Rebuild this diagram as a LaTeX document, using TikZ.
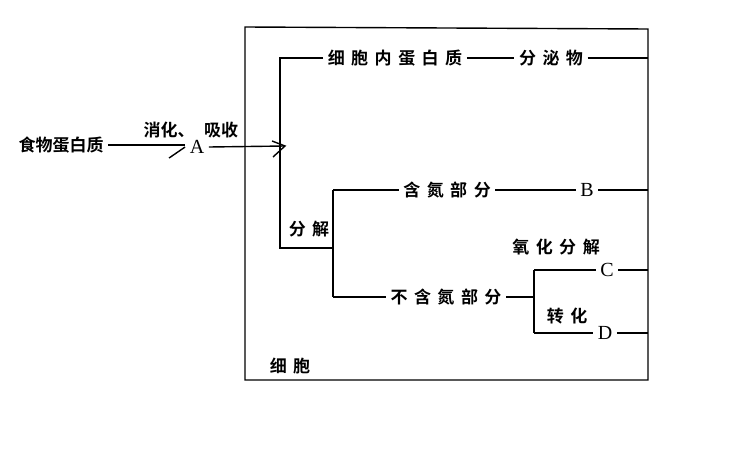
\documentclass[tikz,border=0pt]{standalone}
\usepackage{fontspec}
\setmainfont{Liberation Serif}
\newfontfamily\cjk{Noto Sans CJK SC}[BoldFont={Noto Sans CJK SC Bold}]
\newcommand\gp{\hspace{6.5pt}}
\begin{document}
\begin{tikzpicture}[x=1pt,y=-1pt,line width=1.4pt,
  lbl/.style={font=\cjk\bfseries\fontsize{17}{17}\selectfont,inner xsep=4pt,inner ysep=0pt},
  let/.style={font=\fontsize{20}{20}\selectfont,inner xsep=4pt,inner ysep=0pt}]
\useasboundingbox (0,0) rectangle (738,452);
% cell frame
\coordinate (bTL) at (245,27);
\coordinate (bTR) at (648,29);
\coordinate (bBR) at (648,380);
\coordinate (bBL) at (245,380);
\coordinate (bR) at (648,200);
\draw (bTL) -- (bTR) -- (bBR) -- (bBL) -- cycle;
% outside
\node[lbl] (food) at (61,145) {食物蛋白质};
\node[let] (A) at (197,147) {A};
\node[lbl,anchor=west,inner xsep=0pt] (dig) at (143,130) {消化、};
\node[lbl] (abs) at (221,130) {吸收};
\coordinate (ar) at (285,146);
\draw (food.east) -- (A.west |- food.east);
\draw ([shift={(-16,11)}]A.west) -- (A.west);
\draw (A.east) -- (ar);
\draw ([shift={(-13,-5)}]ar) -- (ar) -- ([shift={(-12,11)}]ar);
% inner
\node[lbl] (ip) at (395,58) {细\gp 胞\gp 内\gp 蛋\gp 白\gp 质};
\node[lbl] (fm) at (551,58) {分\gp 泌\gp 物};
\node[lbl] (fj) at (309,229) {分\gp 解};
\coordinate (t1) at (280,58);
\coordinate (t0) at (280,248);
\coordinate (s0) at (333,248);
\coordinate (s1) at (333,190);
\coordinate (s2) at (333,297);
\draw (ip.west) -- (t1) -- (t0) -- (s0);
\draw (ip.east) -- (fm.west);
\draw (fm.east) -- (fm.east -| bR);
\draw (s1) -- (s2);
\node[lbl] (n1) at (447,190) {含\gp 氮\gp 部\gp 分};
\node[let] (B) at (587,190) {B};
\draw (s1) -- (n1.west);
\draw (n1.east) -- (B.west);
\draw (B.east) -- (B.east -| bR);
\node[lbl] (n2) at (446,297) {不\gp 含\gp 氮\gp 部\gp 分};
\coordinate (j0) at (534,297);
\coordinate (j1) at (534,270);
\coordinate (j2) at (534,333);
\draw (s2) -- (n2.west);
\draw (n2.east) -- (j0);
\draw (j1) -- (j2);
\node[let] (C) at (607,270) {C};
\node[let] (D) at (605,333) {D};
\node[lbl] (ox) at (556,247) {氧\gp 化\gp 分\gp 解};
\node[lbl] (zh) at (567,316) {转\gp 化};
\draw (j1) -- (C.west);
\draw (C.east) -- (C.east -| bR);
\draw (j2) -- (D.west);
\draw (D.east) -- (D.east -| bR);
\node[lbl] (cell) at (290,366) {细\gp 胞};
\end{tikzpicture}
\end{document}
